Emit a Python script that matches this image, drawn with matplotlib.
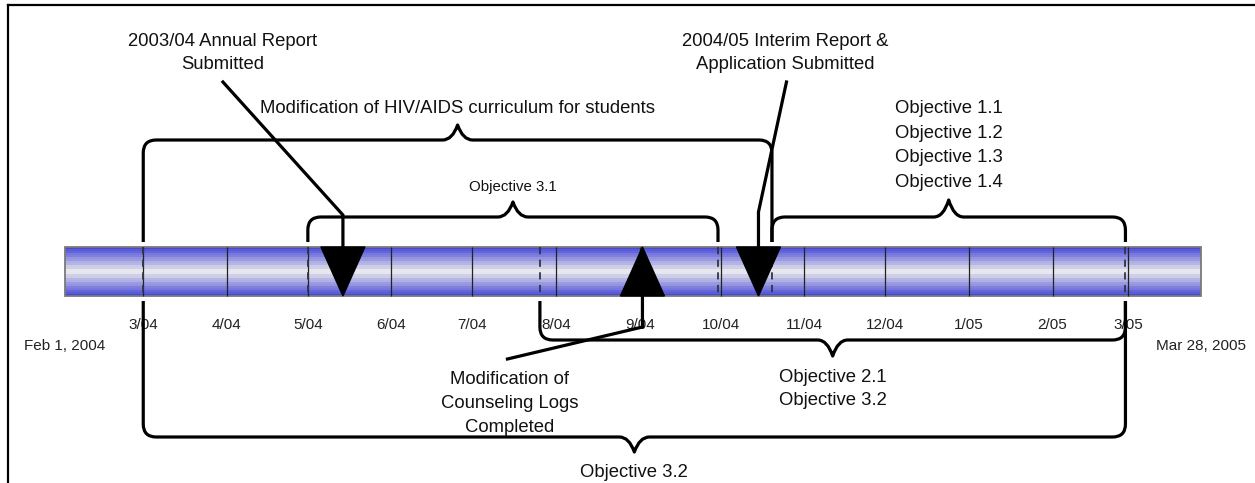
import datetime as dt
import numpy as np
import matplotlib
matplotlib.use("Agg")
import matplotlib.pyplot as plt
import matplotlib.dates as mdates
from matplotlib.lines import Line2D
from matplotlib.path import Path
from matplotlib.patches import PathPatch, Polygon, Rectangle

plt.rcParams['font.family'] = ['Liberation Sans', 'DejaVu Sans']

# timeline range
start_date = dt.date(2004, 2, 1)
end_date = dt.date(2005, 3, 28)
start_label = "Feb 1, 2004"
end_label = "Mar 28, 2005"

month_dates = [dt.date(2004, 3, 1), dt.date(2004, 4, 1), dt.date(2004, 5, 1),
               dt.date(2004, 6, 1), dt.date(2004, 7, 1), dt.date(2004, 8, 1),
               dt.date(2004, 9, 1), dt.date(2004, 10, 1), dt.date(2004, 11, 1),
               dt.date(2004, 12, 1), dt.date(2005, 1, 1), dt.date(2005, 2, 1),
               dt.date(2005, 3, 1)]
month_labels = ["3/04", "4/04", "5/04", "6/04", "7/04", "8/04", "9/04",
                "10/04", "11/04", "12/04", "1/05", "2/05", "3/05"]

# milestones
milestone_dates = [dt.date(2004, 5, 14), dt.date(2004, 10, 15), dt.date(2004, 9, 2)]
milestone_labels = ["2003/04 Annual Report\nSubmitted",
                    "2004/05 Interim Report &\nApplication Submitted",
                    "Modification of\nCounseling Logs\nCompleted"]
milestone_up = [False, False, True]

# spans (braces)
span_starts = [dt.date(2004, 3, 1), dt.date(2004, 5, 1), dt.date(2004, 10, 20),
               dt.date(2004, 7, 26), dt.date(2004, 3, 1)]
span_ends = [dt.date(2004, 10, 20), dt.date(2004, 9, 30), dt.date(2005, 2, 28),
             dt.date(2005, 2, 28), dt.date(2005, 2, 28)]
span_labels = ["Modification of HIV/AIDS curriculum for students",
               "Objective 3.1",
               "Objective 1.1\nObjective 1.2\nObjective 1.3\nObjective 1.4",
               "Objective 2.1\nObjective 3.2",
               "Objective 3.2"]
span_above = [True, True, True, False, False]

# layout in pixels
W, H = 1255, 483
BAR_L, BAR_R = 65, 1201
BAR_TOP, BAR_BOT = 247, 296
span_line_y = [140, 217, 217, 340, 437]
span_end_y = [242, 242, 242, 301, 301]
span_tip = [15, 15, 17, 16, 15]
span_text_y = [113, 191, 113, 382, 477]
span_gap = [0, 0, 24.7, 23, 0]
span_fs = [13.3, 10.8, 13.3, 13.3, 13.3]
ms_text_dx = [-120, 27, -133]
ms_text_y = [46, 46, 384]
ms_gap = [23, 23, 24]
ms_elbow_y = [215, 212, 327]
ms_lead_dx = [-120, 28, -135]
ms_lead_y = [82, 82, 359]

fig = plt.figure(figsize=(W / 100, H / 100), dpi=100)
ax = fig.add_axes([0, 0, 1, 1])
d0 = mdates.date2num(start_date)
d1 = mdates.date2num(end_date)
ppd = (BAR_R - BAR_L) / (d1 - d0)


def px(p):
    return p / ppd


# gradient bar
n = 25
t = np.abs(np.arange(n) - (n - 1) / 2) / ((n - 1) / 2)
f = t ** 1.05
blue = np.array([0.30, 0.30, 0.86])
white = np.array([0.95, 0.95, 0.95])
cols = white[None, :] * (1 - f[:, None]) + blue[None, :] * f[:, None]
cols[::2] *= 0.96
ax.imshow(cols[:, None, :], extent=[d0, d1, BAR_BOT, BAR_TOP], aspect='auto',
          interpolation='nearest', zorder=1)
ax.add_patch(Rectangle((d0, BAR_TOP), d1 - d0, BAR_BOT - BAR_TOP, fill=False,
                       ec='#7a7a7a', lw=1.3, zorder=2))

mnum = mdates.date2num(month_dates)
ax.vlines(mnum, BAR_TOP, BAR_BOT, color='#222222', lw=0.9, zorder=2)
for x, lab in zip(mnum, month_labels):
    ax.text(x, 329, lab, ha='center', va='baseline', fontsize=11, color='#222222')
ax.text(d0, 350, start_label, ha='center', va='baseline', fontsize=11, color='#222222')
ax.text(d1, 350, end_label, ha='center', va='baseline', fontsize=11, color='#222222')

# dashed markers at span ends
ends = sorted(set(mdates.date2num(span_starts)) | set(mdates.date2num(span_ends)))
ax.vlines(ends, BAR_TOP, BAR_BOT, color='#333344', lw=1.3, linestyles=(0, (4, 3)), zorder=2)


def brace(a, b, yl, ye, tip, r=13, w=15):
    d = 1 if ye > yl else -1
    m = (a + b) / 2
    rx, wx = px(r), px(w)
    verts = [(a, ye), (a, yl + d * r), (a, yl), (a + rx, yl),
             (m - wx, yl), (m - 0.35 * wx, yl), (m, yl - d * tip),
             (m + 0.35 * wx, yl), (m + wx, yl),
             (b - rx, yl), (b, yl), (b, yl + d * r), (b, ye)]
    codes = [Path.MOVETO, Path.LINETO, Path.CURVE3, Path.CURVE3,
             Path.LINETO, Path.CURVE3, Path.CURVE3, Path.CURVE3, Path.CURVE3,
             Path.LINETO, Path.CURVE3, Path.CURVE3, Path.LINETO]
    ax.add_patch(PathPatch(Path(verts, codes), fill=False, lw=2.3, ec='black',
                           capstyle='butt', joinstyle='round', zorder=3))
    return m


for i, lab in enumerate(span_labels):
    a = mdates.date2num(span_starts[i])
    b = mdates.date2num(span_ends[i])
    m = brace(a, b, span_line_y[i], span_end_y[i], span_tip[i])
    for k, line in enumerate(lab.split('\n')):
        ax.text(m, span_text_y[i] + k * span_gap[i], line, ha='center', va='baseline',
                fontsize=span_fs[i], color='#111111')

# milestones
for i, lab in enumerate(milestone_labels):
    x = mdates.date2num(milestone_dates[i])
    hw = px(22)
    if milestone_up[i]:
        tri = [(x - hw, BAR_BOT), (x + hw, BAR_BOT), (x, BAR_TOP)]
        y_stem = BAR_BOT
    else:
        tri = [(x - hw, BAR_TOP), (x + hw, BAR_TOP), (x, BAR_BOT)]
        y_stem = BAR_TOP
    ax.add_patch(Polygon(tri, closed=True, fc='black', ec='black', lw=1, zorder=4))
    ax.plot([x, x, x + px(ms_lead_dx[i])], [y_stem, ms_elbow_y[i], ms_lead_y[i]],
            color='black', lw=2.3, solid_joinstyle='miter', zorder=4)
    for k, line in enumerate(lab.split('\n')):
        ax.text(x + px(ms_text_dx[i]), ms_text_y[i] + k * ms_gap[i], line,
                ha='center', va='baseline', fontsize=13.3, color='#111111')

ax.set_xlim(d0 - px(BAR_L), d0 + px(W - BAR_L))
ax.set_ylim(H, 0)
ax.axis('off')

# frame (top and left edges)
fig.add_artist(Line2D([8 / W, 1], [1 - 5 / H, 1 - 5 / H], color='black', lw=1.6))
fig.add_artist(Line2D([8 / W, 8 / W], [0, 1 - 5 / H], color='black', lw=1.6))

fig.savefig("out.png", dpi=100)
